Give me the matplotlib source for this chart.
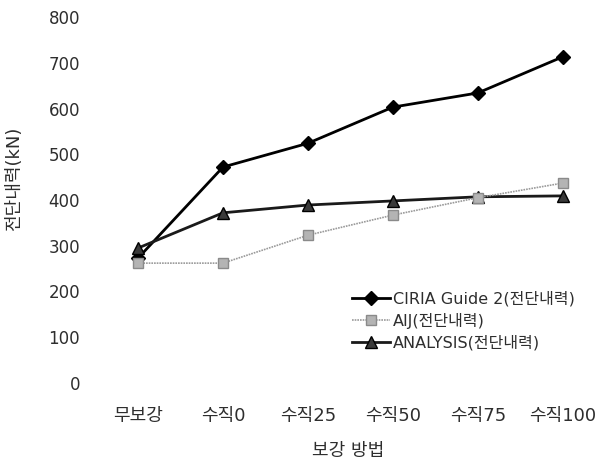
import matplotlib.pyplot as plt

plt.rcParams['font.family'] = ['DejaVu Sans', 'Noto Sans CJK KR']

categories = ["무보강", "수직0", "수직25", "수직50", "수직75", "수직100"]
ciria = [273, 472, 524, 603, 634, 713]
aij = [262, 262, 323, 367, 405, 437]
analysis = [295, 372, 389, 398, 407, 409]
yticks = [0, 100, 200, 300, 400, 500, 600, 700, 800]

TEXT = "#2e2e2e"
W, H = 601, 463

fig = plt.figure(figsize=(W / 100, H / 100), dpi=100)
ax = fig.add_axes([96 / W, 80 / H, 505 / W, 366 / H])

x = range(len(categories))
ax.plot(x, ciria, color="black", lw=2, marker="D", ms=7,
        label="CIRIA Guide 2(전단내력)", zorder=3)
ax.plot(x, aij, color="#9a9a9a", lw=1.2, ls=(0, (1, 0.6)), marker="s", ms=7,
        mfc="#b4b4b4", mec="#8a8a8a", label="AIJ(전단내력)", zorder=4)
ax.plot(x, analysis, color="#1a1a1a", lw=2, marker="^", ms=8,
        mfc="#3a3a3a", mec="black", label="ANALYSIS(전단내력)", zorder=3)

ax.set_xlim(-0.495, 5.45)
ax.set_ylim(0, 800)
ax.set_yticks(yticks)
ax.set_xticks(list(x))
ax.set_xticklabels(categories)
for s in ax.spines.values():
    s.set_visible(False)
ax.tick_params(length=0, labelcolor=TEXT)
ax.tick_params(axis="y", pad=11.5, labelsize=12)
ax.tick_params(axis="x", pad=17.5, labelsize=13)

ax.set_ylabel("전단내력(kN)", fontsize=13, color=TEXT)
ax.yaxis.set_label_coords(-0.145, 0.557)
ax.set_xlabel("보강 방법", fontsize=13, color=TEXT)
ax.xaxis.set_label_coords(0.5, -0.16)

ax.legend(loc="center left", bbox_to_anchor=(352 / W, 1 - 321 / H),
          bbox_transform=fig.transFigure, frameon=False, borderpad=0,
          borderaxespad=0, fontsize=11.5, handlelength=2.4, handletextpad=0.15,
          labelspacing=0.4, labelcolor=TEXT)

fig.savefig("out.png", dpi=100)
